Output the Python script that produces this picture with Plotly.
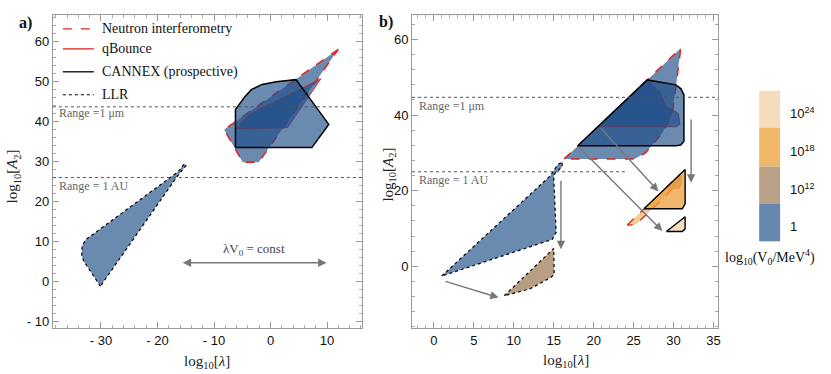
import plotly.graph_objects as go

# ---------------- data ----------------
# Panel a
a_llr_x = [-30.1, -33.0, -33.4, -33.3, -32.6, -31.5, -16.3, -15.3, -14.9, -16.5, -30.1]
a_llr_y = [-1.2, 5.0, 6.5, 9.0, 10.6, 11.7, 27.5, 29.4, 29.1, 26.3, -1.2]
a_neut_x = [12.0, -8.2, -4.9, -2.1, 12.0]
a_neut_y = [58.1, 38.0, 29.8, 29.8, 58.1]
a_qb_x = [-6.1, -3.7, 8.9, 3.0, -6.1]
a_qb_y = [38.2, 41.8, 50.7, 38.5, 38.2]
a_can_x = [-6.2, -6.2, -4.5, -3.4, -1.5, 1.0, 4.5, 10.3, 7.3, -6.2]
a_can_y = [33.5, 43.0, 46.3, 48.0, 49.3, 50.0, 50.5, 39.3, 33.5, 33.5]

# Panel b
b_neut_x = [16.3, 30.9, 30.3, 29.8, 28.6, 26.5, 25.1, 16.3]
b_neut_y = [28.4, 57.7, 47.5, 40.0, 35.3, 30.0, 28.4, 28.4]
b_qb_x = [20.7, 26.7, 28.4, 29.0, 30.6, 30.8, 30.3, 20.7]
b_qb_y = [37.0, 49.3, 45.8, 42.3, 40.5, 37.5, 36.9, 37.0]
b_can_x = [18.0, 26.7, 30.3, 30.9, 31.3, 31.3, 30.9, 30.3, 18.0]
b_can_y = [31.9, 49.3, 48.0, 47.0, 45.4, 33.1, 32.1, 31.9, 31.9]
b_llr_x = [0.96, 14.6, 15.5, 16.1, 16.0, 15.1, 15.0, 15.3, 14.8, 0.96]
b_llr_y = [-2.6, 24.0, 26.9, 27.6, 26.2, 24.5, 23.5, 9.0, 7.1, -2.6]
b_tan_x = [8.8, 15.0, 15.05, 14.6, 12.0, 8.8]
b_tan_y = [-7.8, 4.7, -2.2, -3.0, -6.0, -7.8]
b_oneut_x = [24.2, 30.8, 30.5, 28.5, 26.0, 25.2, 24.2]
b_oneut_y = [10.9, 24.3, 22.0, 17.5, 12.5, 11.0, 10.9]
b_oqb_x = [29.2, 30.9, 31.0, 30.7, 29.2]
b_oqb_y = [20.6, 24.6, 22.5, 20.6, 20.6]
b_ocan_x = [26.3, 31.45, 31.45, 31.1, 26.3]
b_ocan_y = [15.2, 25.6, 16.5, 15.2, 15.2]
b_peach_x = [29.1, 31.45, 31.45, 31.1, 29.1]
b_peach_y = [9.2, 13.1, 9.9, 9.2, 9.2]

# reference lines (y values) and labels
a_range_um = 43.7
a_range_au = 26.0
b_range_um = 44.7
b_range_au = 25.0
b_range_au_xend = 23.9

# arrows: (x_tail, y_tail, x_head, y_head)
b_arrows = [
    (20.7, 37.0, 28.1, 19.8),
    (18.0, 31.9, 28.6, 9.3),
    (32.2, 39.2, 32.2, 22.1),
    (15.9, 23.0, 15.9, 4.5),
    (1.25, -3.9, 8.1, -8.3),
]
a_const_arrow = (-15.8, 9.9, 4.7)

# axis ticks
a_xticks = [-30, -20, -10, 0, 10]
a_xticktext = ["- 30", "- 20", "- 10", "0", "10"]
a_yticks = [-10, 0, 10, 20, 30, 40, 50, 60]
a_yticktext = ["- 10", "0", "10", "20", "30", "40", "50", "60"]
b_xticks = [0, 5, 10, 15, 20, 25, 30, 35]
b_yticks = [0, 20, 40, 60]

# colorbar
cb_labels = ["10<sup>24</sup>", "10<sup>18</sup>", "10<sup>12</sup>", "1"]
cb_colors = ["#F5DDBC", "#F0B868", "#B9A087", "#6688AF"]

legend_names = ["Neutron interferometry", "qBounce", "CANNEX (prospective)", "LLR"]

# ---------------- styles ----------------
BLUE = "rgba(30,78,135,0.66)"
TAN = "rgba(160,125,90,0.75)"
ORANGE = "rgba(236,160,60,0.75)"
ORANGE_L = "rgba(240,170,80,0.6)"
ORANGE_D = "rgba(190,120,60,0.6)"
PEACH = "rgba(243,215,175,0.85)"
RED = "#E0231E"
QRED = "rgba(200,30,40,0.9)"
SERIF = "Liberation Serif"
SANS = "Liberation Sans"

fig = go.Figure()


def poly(x, y, fill, lcolor, dash, width, xa="x", ya="y"):
    fig.add_trace(go.Scatter(x=x, y=y, mode="lines", fill="toself", fillcolor=fill,
                             line=dict(color=lcolor, dash=dash, width=width),
                             xaxis=xa, yaxis=ya, hoverinfo="skip", showlegend=False))


# panel a
poly(a_llr_x, a_llr_y, BLUE, "black", "dot", 1.2)
poly(a_neut_x, a_neut_y, BLUE, RED, "dash", 1.5)
poly(a_qb_x, a_qb_y, BLUE, QRED, "solid", 1.0)
poly(a_can_x, a_can_y, BLUE, "black", "solid", 1.5)

# panel b
poly(b_neut_x, b_neut_y, BLUE, RED, "dash", 1.5, "x2", "y2")
poly(b_qb_x, b_qb_y, BLUE, QRED, "solid", 1.0, "x2", "y2")
poly(b_can_x, b_can_y, BLUE, "black", "solid", 1.5, "x2", "y2")
poly(b_llr_x, b_llr_y, BLUE, "black", "dot", 1.2, "x2", "y2")
poly(b_tan_x, b_tan_y, TAN, "black", "dot", 1.2, "x2", "y2")
poly(b_oneut_x, b_oneut_y, ORANGE_L, RED, "dash", 1.3, "x2", "y2")
poly(b_oqb_x, b_oqb_y, ORANGE_D, "rgba(220,90,40,0.8)", "solid", 1.0, "x2", "y2")
poly(b_ocan_x, b_ocan_y, ORANGE, "black", "solid", 1.4, "x2", "y2")
poly(b_peach_x, b_peach_y, PEACH, "black", "solid", 1.4, "x2", "y2")

axis_common = dict(showline=True, linecolor="#9a9a9a", linewidth=1, mirror="allticks",
                   ticks="inside", ticklen=6, tickcolor="#9a9a9a", showgrid=False,
                   zeroline=False, tickfont=dict(family=SANS, size=13, color="#111"),
                   minor=dict(ticks="inside", ticklen=3, tickcolor="#aaaaaa"))

YDOM = [0.12, 0.959]
fig.update_layout(
    width=831, height=374, margin=dict(l=0, r=0, t=0, b=0),
    paper_bgcolor="white", plot_bgcolor="white",
    xaxis=dict(domain=[53 / 831, 363 / 831], range=[-38.5, 16.2], anchor="y",
               tickvals=a_xticks, ticktext=a_xticktext, **axis_common),
    yaxis=dict(domain=YDOM, range=[-11.7, 66.6], anchor="x",
               tickvals=a_yticks, ticktext=a_yticktext, **axis_common),
    xaxis2=dict(domain=[413 / 831, 720 / 831], range=[-2.75, 35.6], anchor="y2",
                tickvals=b_xticks, **axis_common),
    yaxis2=dict(domain=YDOM, range=[-16.4, 66.4], anchor="x2",
                tickvals=b_yticks, **axis_common),
)
fig.layout.xaxis.minor.dtick = 2
fig.layout.yaxis.minor.dtick = 2
fig.layout.xaxis2.minor.dtick = 1
fig.layout.yaxis2.minor.dtick = 4

shapes = []
dot = dict(color="#555", width=1, dash="dot")
shapes.append(dict(type="line", xref="x domain", yref="y", x0=0, x1=1, y0=a_range_um, y1=a_range_um, line=dot))
shapes.append(dict(type="line", xref="x domain", yref="y", x0=0, x1=1, y0=a_range_au, y1=a_range_au, line=dot))
shapes.append(dict(type="line", xref="x2 domain", yref="y2", x0=0, x1=1, y0=b_range_um, y1=b_range_um, line=dot))
shapes.append(dict(type="line", xref="x2", yref="y2", x0=-2.75, x1=b_range_au_xend, y0=b_range_au, y1=b_range_au, line=dot))

# legend (manual)
leg_rows = [29, 49, 72, 95]
leg_styles = [(RED, "dash", 1.3), (RED, "solid", 1.3), ("black", "solid", 1.3), ("black", "dot", 1.2)]
annotations = []
for name, row, (c, d, w) in zip(legend_names, leg_rows, leg_styles):
    yp = 1 - row / 374
    shapes.append(dict(type="line", xref="paper", yref="paper", x0=63 / 831, x1=94 / 831, y0=yp, y1=yp,
                       line=dict(color=c, dash=d, width=w)))
    annotations.append(dict(xref="paper", yref="paper", x=100 / 831, y=yp, text=name, showarrow=False,
                            xanchor="left", yanchor="middle",
                            font=dict(family=SERIF, size=14, color="#111")))

# colorbar (manual)
cb_edges = [91, 128, 167, 204, 242]
for i, (lab, col) in enumerate(zip(cb_labels, cb_colors)):
    y0 = 1 - cb_edges[i + 1] / 374
    y1 = 1 - cb_edges[i] / 374
    shapes.append(dict(type="rect", xref="paper", yref="paper", x0=761 / 831, x1=782 / 831, y0=y0, y1=y1,
                       fillcolor=col, line=dict(width=0)))
    annotations.append(dict(xref="paper", yref="paper", x=790 / 831, y=(y0 + y1) / 2 - 0.01, text=lab,
                            showarrow=False, xanchor="left", yanchor="middle",
                            font=dict(family=SANS, size=13, color="#111")))
annotations.append(dict(xref="paper", yref="paper", x=772 / 831, y=1 - 258 / 374,
                        text="log<sub>10</sub>(V<sub>0</sub>/MeV<sup>4</sup>)", showarrow=False,
                        xanchor="center", yanchor="middle", font=dict(family=SERIF, size=14, color="#111")))

# range labels
gfont = dict(family=SERIF, size=12, color="#666")
annotations += [
    dict(xref="paper", yref="paper", x=57 / 831, y=1 - 113 / 374, text="Range =1 μm", showarrow=False,
         xanchor="left", yanchor="middle", font=gfont),
    dict(xref="paper", yref="paper", x=57 / 831, y=1 - 186 / 374, text="Range = 1 AU", showarrow=False,
         xanchor="left", yanchor="middle", font=gfont),
    dict(xref="paper", yref="paper", x=418 / 831, y=1 - 106 / 374, text="Range =1 μm", showarrow=False,
         xanchor="left", yanchor="middle", font=gfont),
    dict(xref="paper", yref="paper", x=418 / 831, y=1 - 180 / 374, text="Range = 1 AU", showarrow=False,
         xanchor="left", yanchor="middle", font=gfont),
]

# lambda V0 = const double arrow
x0c, x1c, yc = a_const_arrow
annotations.append(dict(x=x1c, y=yc, ax=x0c, ay=yc, xref="x", yref="y", axref="x", ayref="y", text="",
                        showarrow=True, arrowhead=2, arrowside="end+start", arrowsize=1.2, arrowwidth=1.4,
                        arrowcolor="#777"))
annotations.append(dict(x=(x0c + x1c) / 2, y=yc + 3.2, xref="x", yref="y", text="λV<sub>0</sub> = const",
                        showarrow=False, xanchor="center", yanchor="middle",
                        font=dict(family=SERIF, size=13, color="#444")))

for xt, yt, xh, yh in b_arrows:
    annotations.append(dict(x=xh, y=yh, ax=xt, ay=yt, xref="x2", yref="y2", axref="x2", ayref="y2", text="",
                            showarrow=True, arrowhead=2, arrowsize=1.2, arrowwidth=1.4, arrowcolor="#777"))

# axis titles and panel labels
tfont = dict(family=SERIF, size=15, color="#222")
cm = dict(showarrow=False, xanchor="center", yanchor="middle", xref="paper", yref="paper")
annotations += [
    dict(x=207 / 831, y=1 - 363 / 374, text="log<sub>10</sub>[<i>λ</i>]", font=tfont, **cm),
    dict(x=567 / 831, y=1 - 362 / 374, text="log<sub>10</sub>[<i>λ</i>]", font=tfont, **cm),
    dict(x=13 / 831, y=1 - 177 / 374, text="log<sub>10</sub>[<i>A</i><sub>2</sub>]", textangle=-90,
         font=tfont, **cm),
    dict(x=389 / 831, y=1 - 175 / 374, text="log<sub>10</sub>[<i>A</i><sub>2</sub>]", textangle=-90,
         font=tfont, **cm),
    dict(x=26 / 831, y=1 - 23 / 374, text="<b>a)</b>", font=dict(family=SERIF, size=16, color="#111"), **cm),
    dict(x=387 / 831, y=1 - 22 / 374, text="<b>b)</b>", font=dict(family=SERIF, size=16, color="#111"), **cm),
]

fig.update_layout(shapes=shapes, annotations=annotations)
fig.write_html("out.html", config={"displayModeBar": False},
               post_script="document.body.style.margin='0';document.body.style.overflow='hidden';")
